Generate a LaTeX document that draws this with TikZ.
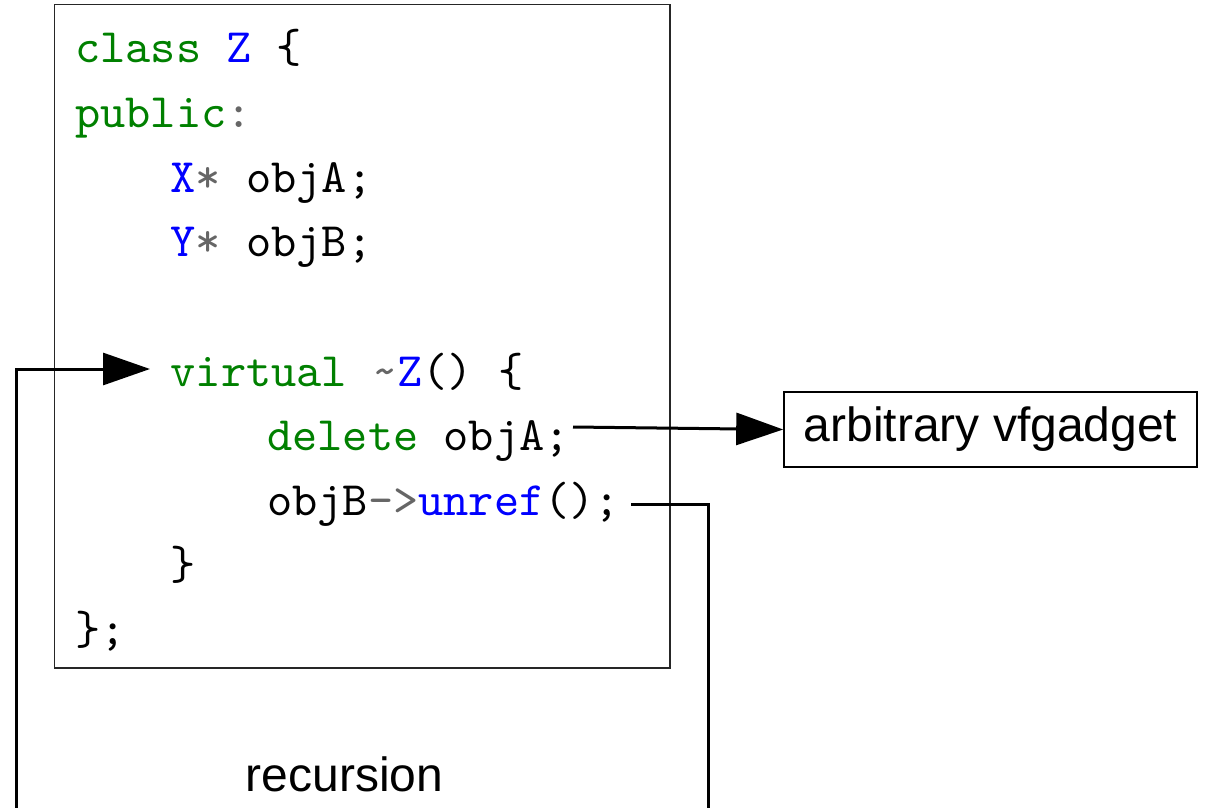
\documentclass[tikz,border=0pt]{standalone}
\usepackage{fontspec}
\setmainfont{Liberation Sans}
\newfontfamily\codefont{lmmono10-regular.otf}
\usetikzlibrary{arrows.meta}
\definecolor{kwgreen}{RGB}{0,128,0}
\definecolor{tyblue}{RGB}{0,0,255}
\definecolor{opgray}{RGB}{102,102,102}
\tikzset{
  codeline/.style={anchor=base west, inner sep=0pt, font=\codefont\fontsize{48}{60}\selectfont},
  conn/.style={line width=3pt, draw=black},
  bigtip/.style={-{Triangle[length=47pt,width=32pt]}},
  labelbox/.style={draw=black, line width=1.6pt, inner sep=0pt, minimum width=413pt, minimum height=75pt, font=\fontsize{48}{56}\selectfont},
  plainlabel/.style={anchor=base, inner sep=0pt, font=\fontsize{48}{56}\selectfont}
}
\begin{document}
\begin{tikzpicture}[x=1pt,y=-1pt]
\useasboundingbox (0,0) rectangle (1205,808);

% class body frame
\draw[line width=1.6pt, black!85] (54.5,4.5) rectangle (670,668);

% source lines
\node[codeline] (l0) at (75,63)    {{\color{kwgreen}class} {\color{tyblue}Z} \{};
\node[codeline] (l1) at (75,127.6) {{\color{kwgreen}public}{\color{opgray}:}};
\node[codeline] (l2) at (170.5,192.2) {{\color{tyblue}X}{\color{opgray}*} objA;};
\node[codeline] (l3) at (170.5,256.8) {{\color{tyblue}Y}{\color{opgray}*} objB;};
\node[codeline] (l5) at (170.5,386) {{\color{kwgreen}virtual} {\color{opgray}\string~}{\color{tyblue}Z}() \{};
\node[codeline] (l6) at (267,450.6) {{\color{kwgreen}delete} objA;};
\node[codeline] (l7) at (267,515.2) {objB{\color{opgray}->}{\color{tyblue}unref}();};
\node[codeline] (l8) at (170.5,579.8) {\}};
\node[codeline] (l9) at (75,644.4) {\};};

% target of the delete call
\node[labelbox] (gadget) at (990.5,429.5) {arbitrary vfgadget};

% recursion label below the frame
\node[plainlabel] (rec) at (344.5,791.5) {recursion};

% connector ends beside the code lines
\coordinate (delsrc) at (573,427);
\coordinate (unrefsrc) at (631,504);
\coordinate (dtorin) at (150,369);

\draw[conn, bigtip] (delsrc) -- (gadget.west);
\draw[conn, bigtip] (unrefsrc) -- (708,504) -- (708,830) -- (16,830) -- (16,369) -- (dtorin);
\end{tikzpicture}
\end{document}
